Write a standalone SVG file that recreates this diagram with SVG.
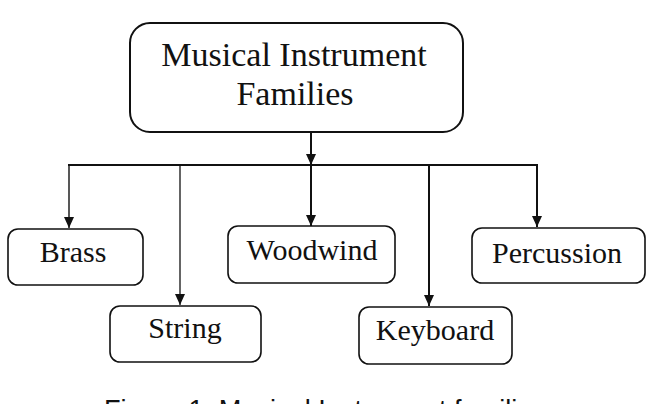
<svg xmlns="http://www.w3.org/2000/svg" width="656" height="404" viewBox="0 0 656 404">
<style>
.box{fill:#fff;stroke:#111;stroke-width:1.6}
.root{fill:#fff;stroke:#111;stroke-width:2}
.lbl{font-family:"Liberation Serif","Times New Roman",serif;font-size:30px;fill:#111;text-anchor:middle}
.rlbl{font-family:"Liberation Serif","Times New Roman",serif;font-size:34px;fill:#111;text-anchor:middle}
.cap{font-family:"Liberation Sans",Arial,sans-serif;font-size:27px;fill:#111}
.ln{stroke:#111;fill:none}
</style>
<defs>
<marker id="arrd" markerUnits="userSpaceOnUse" markerWidth="10" markerHeight="12" refX="5" refY="11" viewBox="0 0 10 12" orient="0">
<path d="M0,0 L10,0 L5,11 Z" fill="#111"/>
</marker>
</defs>
<rect width="656" height="404" fill="#fff"/>
<g id="connectors">
<line class="ln" x1="311" y1="132" x2="311" y2="165" stroke-width="2" marker-end="url(#arrd)"/>
<line class="ln" x1="68" y1="165" x2="538" y2="165" stroke="#444" stroke-width="2.2"/>
<line class="ln" x1="69" y1="165" x2="69" y2="228" stroke-width="1.4" marker-end="url(#arrd)"/>
<line class="ln" x1="180" y1="165" x2="180" y2="305" stroke-width="1.3" marker-end="url(#arrd)"/>
<line class="ln" x1="311" y1="165" x2="311" y2="226" stroke-width="2" marker-end="url(#arrd)"/>
<line class="ln" x1="429" y1="165" x2="429" y2="306" stroke-width="2" marker-end="url(#arrd)"/>
<line class="ln" x1="537" y1="165" x2="537" y2="227" stroke-width="2" marker-end="url(#arrd)"/>
</g>
<g id="root">
<rect class="root" x="130" y="23" width="333" height="109" rx="20"/>
<text class="rlbl" x="294" y="66">Musical Instrument</text>
<text class="rlbl" x="295" y="105">Families</text>
</g>
<g id="brass">
<rect class="box" x="8" y="229" width="135" height="56" rx="10"/>
<text class="lbl" x="73" y="262">Brass</text>
</g>
<g id="string">
<rect class="box" x="110" y="306" width="151" height="56" rx="10"/>
<text class="lbl" x="185" y="338">String</text>
</g>
<g id="woodwind">
<rect class="box" x="228" y="226" width="167" height="57" rx="10"/>
<text class="lbl" x="312" y="260">Woodwind</text>
</g>
<g id="keyboard">
<rect class="box" x="359" y="307" width="153" height="57" rx="10"/>
<text class="lbl" x="435" y="340">Keyboard</text>
</g>
<g id="percussion">
<rect class="box" x="472" y="228" width="173" height="55" rx="10"/>
<text class="lbl" x="557" y="263">Percussion</text>
</g>
<text class="cap" x="104" y="419" textLength="442" lengthAdjust="spacingAndGlyphs">Figure 1. Musical Instrument families</text>
</svg>
